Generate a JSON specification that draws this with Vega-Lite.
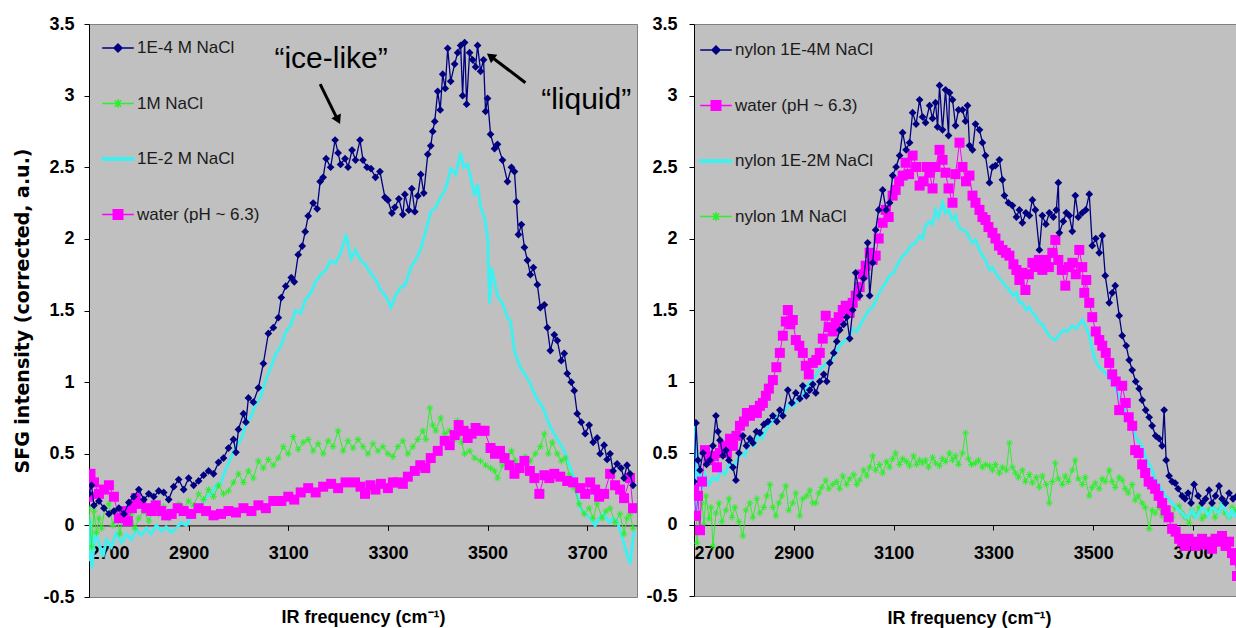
{
  "$schema": "https://vega.github.io/schema/vega-lite/v6.json",
  "padding": {"left": 13, "top": 14, "right": 0, "bottom": 0},
  "background": "white",
  "spacing": 7,
  "datasets": {
    "L_navy": [{"x":2700,"y":0.22},{"x":2705,"y":0.28},{"x":2710,"y":0.14},{"x":2720,"y":0.17},{"x":2730,"y":0.12},{"x":2740,"y":0.08},{"x":2750,"y":0.1},{"x":2760,"y":0.12},{"x":2770,"y":0.08},{"x":2780,"y":0.16},{"x":2790,"y":0.2},{"x":2800,"y":0.25},{"x":2810,"y":0.18},{"x":2820,"y":0.22},{"x":2830,"y":0.2},{"x":2840,"y":0.24},{"x":2850,"y":0.23},{"x":2860,"y":0.18},{"x":2870,"y":0.27},{"x":2880,"y":0.32},{"x":2890,"y":0.25},{"x":2900,"y":0.33},{"x":2910,"y":0.28},{"x":2920,"y":0.31},{"x":2930,"y":0.35},{"x":2940,"y":0.38},{"x":2950,"y":0.36},{"x":2960,"y":0.44},{"x":2970,"y":0.47},{"x":2980,"y":0.54},{"x":2990,"y":0.6},{"x":2995,"y":0.51},{"x":3000,"y":0.67},{"x":3010,"y":0.78},{"x":3015,"y":0.72},{"x":3020,"y":0.89},{"x":3030,"y":0.86},{"x":3040,"y":0.96},{"x":3050,"y":1.13},{"x":3060,"y":1.34},{"x":3070,"y":1.38},{"x":3080,"y":1.45},{"x":3086,"y":1.59},{"x":3095,"y":1.67},{"x":3106,"y":1.73},{"x":3112,"y":1.7},{"x":3120,"y":1.89},{"x":3128,"y":1.95},{"x":3134,"y":2.05},{"x":3140,"y":2.16},{"x":3150,"y":2.25},{"x":3158,"y":2.21},{"x":3164,"y":2.4},{"x":3170,"y":2.43},{"x":3176,"y":2.56},{"x":3185,"y":2.5},{"x":3194,"y":2.69},{"x":3200,"y":2.6},{"x":3205,"y":2.52},{"x":3214,"y":2.56},{"x":3220,"y":2.5},{"x":3228,"y":2.62},{"x":3235,"y":2.55},{"x":3244,"y":2.69},{"x":3250,"y":2.55},{"x":3258,"y":2.5},{"x":3266,"y":2.49},{"x":3275,"y":2.43},{"x":3284,"y":2.47},{"x":3294,"y":2.29},{"x":3300,"y":2.27},{"x":3308,"y":2.18},{"x":3314,"y":2.22},{"x":3322,"y":2.28},{"x":3330,"y":2.17},{"x":3334,"y":2.31},{"x":3342,"y":2.2},{"x":3348,"y":2.35},{"x":3354,"y":2.19},{"x":3360,"y":2.3},{"x":3366,"y":2.45},{"x":3372,"y":2.32},{"x":3380,"y":2.59},{"x":3386,"y":2.65},{"x":3390,"y":2.75},{"x":3394,"y":2.82},{"x":3400,"y":3.03},{"x":3405,"y":2.9},{"x":3410,"y":3.15},{"x":3415,"y":3.05},{"x":3420,"y":3.33},{"x":3426,"y":3.1},{"x":3434,"y":3.22},{"x":3440,"y":3.3},{"x":3446,"y":3.35},{"x":3450,"y":3.0},{"x":3454,"y":3.37},{"x":3458,"y":2.94},{"x":3464,"y":3.3},{"x":3470,"y":3.25},{"x":3476,"y":3.2},{"x":3480,"y":3.35},{"x":3486,"y":3.17},{"x":3492,"y":3.25},{"x":3496,"y":2.89},{"x":3500,"y":2.98},{"x":3506,"y":2.73},{"x":3514,"y":2.63},{"x":3520,"y":2.66},{"x":3530,"y":2.55},{"x":3540,"y":2.4},{"x":3548,"y":2.5},{"x":3554,"y":2.47},{"x":3558,"y":2.26},{"x":3562,"y":2.03},{"x":3568,"y":2.1},{"x":3574,"y":1.94},{"x":3580,"y":1.85},{"x":3586,"y":1.75},{"x":3592,"y":1.8},{"x":3600,"y":1.68},{"x":3606,"y":1.52},{"x":3614,"y":1.54},{"x":3620,"y":1.38},{"x":3626,"y":1.22},{"x":3634,"y":1.33},{"x":3640,"y":1.29},{"x":3648,"y":1.15},{"x":3654,"y":1.2},{"x":3660,"y":1.06},{"x":3668,"y":1.0},{"x":3674,"y":0.94},{"x":3680,"y":0.78},{"x":3688,"y":0.72},{"x":3696,"y":0.64},{"x":3704,"y":0.7},{"x":3712,"y":0.58},{"x":3720,"y":0.61},{"x":3726,"y":0.5},{"x":3734,"y":0.56},{"x":3740,"y":0.46},{"x":3746,"y":0.5},{"x":3752,"y":0.38},{"x":3760,"y":0.43},{"x":3768,"y":0.4},{"x":3774,"y":0.33},{"x":3780,"y":0.42},{"x":3786,"y":0.36},{"x":3792,"y":0.28}],
    "L_mag": [{"x":2700,"y":0.2},{"x":2703,"y":0.36},{"x":2710,"y":0.3},{"x":2720,"y":0.22},{"x":2730,"y":0.25},{"x":2740,"y":0.28},{"x":2750,"y":0.2},{"x":2760,"y":0.05},{"x":2770,"y":0.1},{"x":2778,"y":0.03},{"x":2786,"y":0.12},{"x":2794,"y":0.19},{"x":2805,"y":0.15},{"x":2815,"y":0.12},{"x":2825,"y":0.1},{"x":2834,"y":0.14},{"x":2845,"y":0.1},{"x":2855,"y":0.07},{"x":2866,"y":0.08},{"x":2878,"y":0.12},{"x":2890,"y":0.1},{"x":2905,"y":0.08},{"x":2920,"y":0.12},{"x":2935,"y":0.1},{"x":2950,"y":0.07},{"x":2965,"y":0.08},{"x":2980,"y":0.1},{"x":2995,"y":0.09},{"x":3010,"y":0.12},{"x":3026,"y":0.1},{"x":3040,"y":0.14},{"x":3055,"y":0.12},{"x":3070,"y":0.17},{"x":3086,"y":0.17},{"x":3100,"y":0.2},{"x":3112,"y":0.18},{"x":3125,"y":0.23},{"x":3140,"y":0.26},{"x":3155,"y":0.23},{"x":3170,"y":0.27},{"x":3186,"y":0.29},{"x":3200,"y":0.26},{"x":3215,"y":0.3},{"x":3234,"y":0.3},{"x":3245,"y":0.27},{"x":3254,"y":0.22},{"x":3265,"y":0.28},{"x":3275,"y":0.25},{"x":3286,"y":0.29},{"x":3300,"y":0.26},{"x":3310,"y":0.3},{"x":3320,"y":0.3},{"x":3330,"y":0.29},{"x":3340,"y":0.34},{"x":3354,"y":0.38},{"x":3365,"y":0.42},{"x":3375,"y":0.4},{"x":3386,"y":0.47},{"x":3400,"y":0.52},{"x":3414,"y":0.59},{"x":3424,"y":0.56},{"x":3434,"y":0.63},{"x":3442,"y":0.7},{"x":3452,"y":0.66},{"x":3460,"y":0.61},{"x":3468,"y":0.64},{"x":3476,"y":0.68},{"x":3486,"y":0.66},{"x":3494,"y":0.66},{"x":3506,"y":0.54},{"x":3515,"y":0.5},{"x":3525,"y":0.52},{"x":3534,"y":0.47},{"x":3544,"y":0.42},{"x":3554,"y":0.36},{"x":3564,"y":0.4},{"x":3574,"y":0.45},{"x":3585,"y":0.38},{"x":3594,"y":0.33},{"x":3604,"y":0.22},{"x":3614,"y":0.35},{"x":3624,"y":0.33},{"x":3634,"y":0.36},{"x":3646,"y":0.34},{"x":3660,"y":0.31},{"x":3672,"y":0.3},{"x":3686,"y":0.26},{"x":3696,"y":0.22},{"x":3706,"y":0.3},{"x":3716,"y":0.25},{"x":3724,"y":0.2},{"x":3734,"y":0.22},{"x":3746,"y":0.36},{"x":3756,"y":0.28},{"x":3766,"y":0.25},{"x":3774,"y":0.19},{"x":3786,"y":0.33},{"x":3792,"y":0.12}],
    "L_cyan": [{"x":2700,"y":-0.25},{"x":2703,"y":0.05},{"x":2706,"y":-0.3},{"x":2712,"y":-0.05},{"x":2720,"y":-0.12},{"x":2728,"y":-0.22},{"x":2735,"y":-0.1},{"x":2745,"y":-0.15},{"x":2755,"y":-0.05},{"x":2765,"y":-0.12},{"x":2775,"y":-0.06},{"x":2785,"y":-0.1},{"x":2795,"y":-0.03},{"x":2805,"y":-0.07},{"x":2815,"y":-0.02},{"x":2825,"y":-0.06},{"x":2835,"y":0.0},{"x":2845,"y":-0.04},{"x":2855,"y":-0.01},{"x":2865,"y":-0.05},{"x":2875,"y":-0.02},{"x":2885,"y":0.02},{"x":2895,"y":0.0},{"x":2905,"y":0.06},{"x":2915,"y":0.1},{"x":2925,"y":0.14},{"x":2935,"y":0.2},{"x":2945,"y":0.22},{"x":2955,"y":0.28},{"x":2965,"y":0.3},{"x":2975,"y":0.4},{"x":2985,"y":0.47},{"x":2995,"y":0.55},{"x":3005,"y":0.6},{"x":3015,"y":0.7},{"x":3025,"y":0.76},{"x":3035,"y":0.85},{"x":3045,"y":0.9},{"x":3055,"y":1.02},{"x":3065,"y":1.1},{"x":3075,"y":1.2},{"x":3085,"y":1.25},{"x":3095,"y":1.35},{"x":3105,"y":1.4},{"x":3115,"y":1.5},{"x":3125,"y":1.48},{"x":3135,"y":1.58},{"x":3145,"y":1.62},{"x":3155,"y":1.7},{"x":3165,"y":1.75},{"x":3175,"y":1.78},{"x":3185,"y":1.85},{"x":3195,"y":1.83},{"x":3205,"y":1.9},{"x":3216,"y":2.03},{"x":3226,"y":1.86},{"x":3235,"y":1.92},{"x":3245,"y":1.85},{"x":3255,"y":1.82},{"x":3265,"y":1.76},{"x":3275,"y":1.72},{"x":3286,"y":1.64},{"x":3296,"y":1.6},{"x":3306,"y":1.52},{"x":3315,"y":1.6},{"x":3325,"y":1.66},{"x":3335,"y":1.68},{"x":3346,"y":1.8},{"x":3355,"y":1.85},{"x":3365,"y":1.92},{"x":3374,"y":2.03},{"x":3386,"y":2.19},{"x":3396,"y":2.22},{"x":3406,"y":2.29},{"x":3416,"y":2.35},{"x":3426,"y":2.49},{"x":3436,"y":2.45},{"x":3446,"y":2.6},{"x":3452,"y":2.5},{"x":3460,"y":2.52},{"x":3468,"y":2.4},{"x":3474,"y":2.3},{"x":3480,"y":2.38},{"x":3486,"y":2.22},{"x":3494,"y":2.15},{"x":3500,"y":2.01},{"x":3504,"y":1.55},{"x":3508,"y":1.8},{"x":3514,"y":1.7},{"x":3520,"y":1.6},{"x":3530,"y":1.55},{"x":3540,"y":1.45},{"x":3546,"y":1.43},{"x":3554,"y":1.22},{"x":3566,"y":1.1},{"x":3576,"y":1.05},{"x":3586,"y":0.99},{"x":3596,"y":0.9},{"x":3606,"y":0.85},{"x":3614,"y":0.8},{"x":3624,"y":0.7},{"x":3634,"y":0.64},{"x":3644,"y":0.58},{"x":3654,"y":0.52},{"x":3664,"y":0.42},{"x":3674,"y":0.33},{"x":3680,"y":0.2},{"x":3686,"y":0.12},{"x":3696,"y":0.08},{"x":3706,"y":0.05},{"x":3716,"y":0.0},{"x":3726,"y":0.06},{"x":3734,"y":0.08},{"x":3744,"y":0.02},{"x":3752,"y":0.05},{"x":3760,"y":0.03},{"x":3770,"y":-0.08},{"x":3780,"y":-0.2},{"x":3786,"y":-0.27},{"x":3794,"y":-0.04}],
    "L_green": [{"x":2700,"y":0.12},{"x":2705,"y":-0.15},{"x":2710,"y":0.1},{"x":2715,"y":-0.05},{"x":2720,"y":0.05},{"x":2725,"y":-0.02},{"x":2732,"y":0.12},{"x":2740,"y":0.15},{"x":2748,"y":0.0},{"x":2755,"y":0.08},{"x":2762,"y":-0.06},{"x":2770,"y":0.1},{"x":2778,"y":0.02},{"x":2785,"y":0.08},{"x":2792,"y":-0.02},{"x":2800,"y":0.05},{"x":2810,"y":0.1},{"x":2820,"y":0.03},{"x":2830,"y":0.12},{"x":2840,"y":0.08},{"x":2850,"y":0.13},{"x":2860,"y":0.05},{"x":2870,"y":0.1},{"x":2880,"y":0.15},{"x":2890,"y":0.12},{"x":2900,"y":0.17},{"x":2910,"y":0.14},{"x":2920,"y":0.22},{"x":2930,"y":0.18},{"x":2940,"y":0.25},{"x":2950,"y":0.2},{"x":2960,"y":0.28},{"x":2970,"y":0.22},{"x":2980,"y":0.24},{"x":2990,"y":0.3},{"x":3000,"y":0.36},{"x":3010,"y":0.3},{"x":3020,"y":0.38},{"x":3030,"y":0.33},{"x":3040,"y":0.45},{"x":3050,"y":0.4},{"x":3060,"y":0.46},{"x":3070,"y":0.42},{"x":3080,"y":0.47},{"x":3090,"y":0.55},{"x":3100,"y":0.5},{"x":3110,"y":0.62},{"x":3120,"y":0.53},{"x":3130,"y":0.58},{"x":3140,"y":0.6},{"x":3150,"y":0.52},{"x":3160,"y":0.57},{"x":3170,"y":0.5},{"x":3180,"y":0.59},{"x":3190,"y":0.55},{"x":3200,"y":0.66},{"x":3210,"y":0.52},{"x":3220,"y":0.59},{"x":3230,"y":0.54},{"x":3240,"y":0.6},{"x":3250,"y":0.55},{"x":3260,"y":0.5},{"x":3270,"y":0.57},{"x":3280,"y":0.52},{"x":3290,"y":0.55},{"x":3300,"y":0.5},{"x":3310,"y":0.48},{"x":3320,"y":0.55},{"x":3330,"y":0.59},{"x":3340,"y":0.5},{"x":3350,"y":0.55},{"x":3360,"y":0.6},{"x":3370,"y":0.66},{"x":3376,"y":0.6},{"x":3384,"y":0.82},{"x":3390,"y":0.7},{"x":3396,"y":0.66},{"x":3406,"y":0.75},{"x":3414,"y":0.64},{"x":3424,"y":0.66},{"x":3434,"y":0.6},{"x":3440,"y":0.73},{"x":3448,"y":0.58},{"x":3454,"y":0.5},{"x":3464,"y":0.52},{"x":3474,"y":0.47},{"x":3486,"y":0.45},{"x":3496,"y":0.42},{"x":3506,"y":0.4},{"x":3514,"y":0.38},{"x":3520,"y":0.33},{"x":3530,"y":0.42},{"x":3540,"y":0.45},{"x":3548,"y":0.52},{"x":3556,"y":0.45},{"x":3566,"y":0.42},{"x":3576,"y":0.48},{"x":3586,"y":0.45},{"x":3596,"y":0.5},{"x":3606,"y":0.55},{"x":3614,"y":0.64},{"x":3622,"y":0.5},{"x":3630,"y":0.58},{"x":3640,"y":0.5},{"x":3648,"y":0.45},{"x":3656,"y":0.47},{"x":3664,"y":0.35},{"x":3674,"y":0.26},{"x":3684,"y":0.15},{"x":3694,"y":0.08},{"x":3704,"y":0.12},{"x":3712,"y":0.05},{"x":3720,"y":0.15},{"x":3730,"y":0.05},{"x":3738,"y":0.1},{"x":3746,"y":0.12},{"x":3756,"y":0.02},{"x":3766,"y":0.08},{"x":3774,"y":-0.06},{"x":3780,"y":0.05},{"x":3786,"y":0.08},{"x":3792,"y":-0.02}],
    "R_navy": [{"x":2700,"y":0.3},{"x":2704,"y":0.71},{"x":2708,"y":0.45},{"x":2712,"y":0.38},{"x":2718,"y":0.5},{"x":2725,"y":0.42},{"x":2732,"y":0.45},{"x":2738,"y":0.55},{"x":2744,"y":0.76},{"x":2748,"y":0.65},{"x":2752,"y":0.59},{"x":2758,"y":0.48},{"x":2764,"y":0.52},{"x":2770,"y":0.45},{"x":2778,"y":0.4},{"x":2784,"y":0.31},{"x":2790,"y":0.5},{"x":2798,"y":0.62},{"x":2805,"y":0.55},{"x":2812,"y":0.6},{"x":2818,"y":0.57},{"x":2825,"y":0.65},{"x":2832,"y":0.64},{"x":2840,"y":0.7},{"x":2848,"y":0.72},{"x":2858,"y":0.76},{"x":2866,"y":0.72},{"x":2872,"y":0.8},{"x":2878,"y":0.76},{"x":2888,"y":0.94},{"x":2896,"y":0.85},{"x":2904,"y":0.92},{"x":2912,"y":0.88},{"x":2918,"y":0.97},{"x":2925,"y":0.9},{"x":2932,"y":0.94},{"x":2938,"y":0.98},{"x":2944,"y":0.92},{"x":2952,"y":1.0},{"x":2960,"y":1.05},{"x":2966,"y":1.0},{"x":2972,"y":1.13},{"x":2980,"y":1.2},{"x":2986,"y":1.28},{"x":2992,"y":1.36},{"x":3000,"y":1.4},{"x":3006,"y":1.45},{"x":3012,"y":1.3},{"x":3018,"y":1.5},{"x":3024,"y":1.76},{"x":3032,"y":1.6},{"x":3040,"y":1.72},{"x":3048,"y":1.97},{"x":3052,"y":1.6},{"x":3058,"y":1.83},{"x":3064,"y":2.06},{"x":3070,"y":2.2},{"x":3078,"y":2.34},{"x":3085,"y":2.2},{"x":3092,"y":2.25},{"x":3098,"y":2.44},{"x":3105,"y":2.5},{"x":3112,"y":2.58},{"x":3118,"y":2.74},{"x":3125,"y":2.62},{"x":3132,"y":2.67},{"x":3138,"y":2.88},{"x":3145,"y":2.8},{"x":3152,"y":2.97},{"x":3158,"y":2.85},{"x":3164,"y":2.81},{"x":3172,"y":2.93},{"x":3178,"y":2.84},{"x":3184,"y":2.95},{"x":3188,"y":2.78},{"x":3192,"y":3.07},{"x":3198,"y":2.76},{"x":3204,"y":3.04},{"x":3210,"y":2.72},{"x":3212,"y":3.02},{"x":3218,"y":2.97},{"x":3224,"y":2.79},{"x":3230,"y":2.9},{"x":3238,"y":2.9},{"x":3244,"y":2.82},{"x":3248,"y":2.93},{"x":3252,"y":2.65},{"x":3258,"y":2.62},{"x":3264,"y":2.8},{"x":3272,"y":2.76},{"x":3278,"y":2.67},{"x":3284,"y":2.58},{"x":3292,"y":2.39},{"x":3298,"y":2.5},{"x":3304,"y":2.51},{"x":3312,"y":2.55},{"x":3318,"y":2.41},{"x":3322,"y":2.3},{"x":3330,"y":2.25},{"x":3338,"y":2.23},{"x":3346,"y":2.15},{"x":3352,"y":2.2},{"x":3358,"y":2.11},{"x":3365,"y":2.18},{"x":3372,"y":2.16},{"x":3378,"y":2.27},{"x":3384,"y":2.2},{"x":3392,"y":1.92},{"x":3398,"y":2.16},{"x":3405,"y":2.1},{"x":3412,"y":2.18},{"x":3420,"y":2.15},{"x":3426,"y":2.2},{"x":3430,"y":2.39},{"x":3432,"y":2.04},{"x":3440,"y":2.12},{"x":3446,"y":2.18},{"x":3452,"y":2.16},{"x":3458,"y":2.05},{"x":3464,"y":2.3},{"x":3470,"y":2.15},{"x":3478,"y":2.18},{"x":3485,"y":2.2},{"x":3492,"y":2.31},{"x":3498,"y":1.95},{"x":3505,"y":2.0},{"x":3512,"y":1.9},{"x":3518,"y":2.02},{"x":3524,"y":1.74},{"x":3532,"y":1.55},{"x":3538,"y":1.62},{"x":3544,"y":1.67},{"x":3552,"y":1.46},{"x":3558,"y":1.32},{"x":3566,"y":1.25},{"x":3572,"y":1.15},{"x":3578,"y":1.08},{"x":3585,"y":1.0},{"x":3592,"y":0.95},{"x":3598,"y":0.87},{"x":3605,"y":0.8},{"x":3612,"y":0.75},{"x":3618,"y":0.69},{"x":3625,"y":0.62},{"x":3632,"y":0.6},{"x":3638,"y":0.55},{"x":3642,"y":0.8},{"x":3646,"y":0.45},{"x":3652,"y":0.34},{"x":3658,"y":0.3},{"x":3664,"y":0.29},{"x":3670,"y":0.25},{"x":3678,"y":0.2},{"x":3684,"y":0.18},{"x":3690,"y":0.22},{"x":3696,"y":0.15},{"x":3702,"y":0.28},{"x":3710,"y":0.2},{"x":3718,"y":0.15},{"x":3725,"y":0.18},{"x":3732,"y":0.24},{"x":3738,"y":0.15},{"x":3745,"y":0.2},{"x":3752,"y":0.27},{"x":3758,"y":0.18},{"x":3765,"y":0.15},{"x":3772,"y":0.22},{"x":3780,"y":0.18},{"x":3788,"y":0.2}],
    "R_mag": [{"x":2700,"y":0.25},{"x":2704,"y":0.06},{"x":2708,"y":0.2},{"x":2712,"y":-0.04},{"x":2716,"y":0.3},{"x":2722,"y":0.52},{"x":2730,"y":0.45},{"x":2738,"y":0.48},{"x":2746,"y":0.4},{"x":2752,"y":0.5},{"x":2758,"y":0.55},{"x":2766,"y":0.5},{"x":2772,"y":0.6},{"x":2778,"y":0.55},{"x":2785,"y":0.62},{"x":2792,"y":0.69},{"x":2800,"y":0.72},{"x":2806,"y":0.78},{"x":2812,"y":0.76},{"x":2820,"y":0.8},{"x":2826,"y":0.78},{"x":2832,"y":0.83},{"x":2838,"y":0.85},{"x":2844,"y":0.9},{"x":2850,"y":0.95},{"x":2858,"y":1.01},{"x":2865,"y":1.1},{"x":2872,"y":1.2},{"x":2878,"y":1.32},{"x":2884,"y":1.42},{"x":2888,"y":1.5},{"x":2893,"y":1.4},{"x":2898,"y":1.43},{"x":2904,"y":1.29},{"x":2911,"y":1.25},{"x":2918,"y":1.2},{"x":2924,"y":1.11},{"x":2930,"y":1.05},{"x":2938,"y":1.13},{"x":2945,"y":1.15},{"x":2952,"y":1.2},{"x":2958,"y":1.3},{"x":2964,"y":1.46},{"x":2970,"y":1.38},{"x":2978,"y":1.35},{"x":2984,"y":1.41},{"x":2990,"y":1.45},{"x":2998,"y":1.5},{"x":3004,"y":1.53},{"x":3012,"y":1.48},{"x":3018,"y":1.55},{"x":3024,"y":1.6},{"x":3032,"y":1.66},{"x":3038,"y":1.75},{"x":3044,"y":1.81},{"x":3052,"y":1.9},{"x":3058,"y":1.85},{"x":3064,"y":1.88},{"x":3070,"y":2.0},{"x":3078,"y":2.11},{"x":3084,"y":2.2},{"x":3090,"y":2.15},{"x":3098,"y":2.3},{"x":3104,"y":2.34},{"x":3111,"y":2.4},{"x":3118,"y":2.44},{"x":3124,"y":2.53},{"x":3131,"y":2.45},{"x":3138,"y":2.58},{"x":3145,"y":2.5},{"x":3152,"y":2.37},{"x":3160,"y":2.4},{"x":3166,"y":2.5},{"x":3172,"y":2.46},{"x":3178,"y":2.35},{"x":3184,"y":2.5},{"x":3192,"y":2.62},{"x":3198,"y":2.55},{"x":3204,"y":2.46},{"x":3210,"y":2.35},{"x":3218,"y":2.25},{"x":3224,"y":2.45},{"x":3232,"y":2.67},{"x":3238,"y":2.5},{"x":3245,"y":2.4},{"x":3252,"y":2.44},{"x":3258,"y":2.3},{"x":3264,"y":2.25},{"x":3272,"y":2.2},{"x":3278,"y":2.15},{"x":3284,"y":2.13},{"x":3290,"y":2.08},{"x":3298,"y":2.04},{"x":3304,"y":2.0},{"x":3311,"y":1.95},{"x":3318,"y":1.92},{"x":3325,"y":1.9},{"x":3332,"y":1.88},{"x":3340,"y":1.82},{"x":3346,"y":1.78},{"x":3352,"y":1.71},{"x":3358,"y":1.76},{"x":3364,"y":1.64},{"x":3371,"y":1.75},{"x":3378,"y":1.83},{"x":3384,"y":1.8},{"x":3391,"y":1.85},{"x":3398,"y":1.78},{"x":3404,"y":1.85},{"x":3411,"y":1.8},{"x":3418,"y":1.9},{"x":3424,"y":1.99},{"x":3430,"y":1.85},{"x":3437,"y":1.78},{"x":3444,"y":1.67},{"x":3451,"y":1.8},{"x":3458,"y":1.83},{"x":3465,"y":1.75},{"x":3472,"y":1.92},{"x":3478,"y":1.8},{"x":3482,"y":1.62},{"x":3486,"y":1.71},{"x":3492,"y":1.55},{"x":3498,"y":1.45},{"x":3505,"y":1.35},{"x":3512,"y":1.29},{"x":3518,"y":1.25},{"x":3525,"y":1.2},{"x":3532,"y":1.13},{"x":3538,"y":1.05},{"x":3545,"y":1.0},{"x":3552,"y":0.8},{"x":3558,"y":0.97},{"x":3565,"y":0.85},{"x":3571,"y":0.75},{"x":3578,"y":0.69},{"x":3584,"y":0.52},{"x":3591,"y":0.5},{"x":3598,"y":0.42},{"x":3604,"y":0.36},{"x":3611,"y":0.3},{"x":3618,"y":0.28},{"x":3624,"y":0.25},{"x":3631,"y":0.2},{"x":3638,"y":0.15},{"x":3645,"y":0.1},{"x":3651,"y":0.05},{"x":3658,"y":-0.03},{"x":3665,"y":-0.05},{"x":3672,"y":-0.1},{"x":3678,"y":-0.12},{"x":3684,"y":-0.15},{"x":3691,"y":-0.1},{"x":3698,"y":-0.12},{"x":3705,"y":-0.15},{"x":3712,"y":-0.13},{"x":3718,"y":-0.1},{"x":3725,"y":-0.14},{"x":3732,"y":-0.12},{"x":3738,"y":-0.17},{"x":3745,"y":-0.1},{"x":3752,"y":-0.12},{"x":3758,"y":-0.08},{"x":3765,"y":-0.15},{"x":3772,"y":-0.12},{"x":3778,"y":-0.2},{"x":3784,"y":-0.25},{"x":3788,"y":-0.36}],
    "R_cyan": [{"x":2700,"y":0.1},{"x":2702,"y":0.69},{"x":2704,"y":0.3},{"x":2706,"y":0.03},{"x":2710,"y":0.4},{"x":2716,"y":0.25},{"x":2722,"y":0.35},{"x":2730,"y":0.28},{"x":2738,"y":0.33},{"x":2746,"y":0.31},{"x":2754,"y":0.38},{"x":2762,"y":0.35},{"x":2770,"y":0.42},{"x":2778,"y":0.4},{"x":2786,"y":0.45},{"x":2794,"y":0.5},{"x":2802,"y":0.48},{"x":2812,"y":0.59},{"x":2820,"y":0.55},{"x":2828,"y":0.62},{"x":2836,"y":0.6},{"x":2844,"y":0.66},{"x":2852,"y":0.7},{"x":2860,"y":0.72},{"x":2868,"y":0.76},{"x":2876,"y":0.78},{"x":2884,"y":0.8},{"x":2892,"y":0.85},{"x":2900,"y":0.83},{"x":2908,"y":0.88},{"x":2918,"y":0.9},{"x":2926,"y":0.96},{"x":2934,"y":1.0},{"x":2942,"y":1.03},{"x":2950,"y":1.08},{"x":2958,"y":1.1},{"x":2966,"y":1.13},{"x":2975,"y":1.15},{"x":2984,"y":1.2},{"x":2992,"y":1.25},{"x":3000,"y":1.28},{"x":3008,"y":1.3},{"x":3018,"y":1.36},{"x":3026,"y":1.35},{"x":3034,"y":1.4},{"x":3042,"y":1.45},{"x":3050,"y":1.5},{"x":3058,"y":1.52},{"x":3066,"y":1.58},{"x":3074,"y":1.64},{"x":3082,"y":1.68},{"x":3092,"y":1.74},{"x":3100,"y":1.76},{"x":3108,"y":1.82},{"x":3118,"y":1.88},{"x":3126,"y":1.9},{"x":3134,"y":1.95},{"x":3144,"y":1.97},{"x":3152,"y":2.02},{"x":3158,"y":2.0},{"x":3164,"y":2.09},{"x":3172,"y":2.12},{"x":3178,"y":2.1},{"x":3184,"y":2.2},{"x":3190,"y":2.15},{"x":3198,"y":2.25},{"x":3204,"y":2.18},{"x":3210,"y":2.2},{"x":3218,"y":2.13},{"x":3224,"y":2.16},{"x":3230,"y":2.08},{"x":3238,"y":2.06},{"x":3246,"y":2.05},{"x":3252,"y":2.0},{"x":3258,"y":1.97},{"x":3264,"y":1.99},{"x":3272,"y":1.92},{"x":3278,"y":1.88},{"x":3284,"y":1.85},{"x":3292,"y":1.78},{"x":3298,"y":1.8},{"x":3304,"y":1.76},{"x":3312,"y":1.72},{"x":3318,"y":1.7},{"x":3324,"y":1.67},{"x":3332,"y":1.64},{"x":3340,"y":1.6},{"x":3346,"y":1.62},{"x":3352,"y":1.55},{"x":3358,"y":1.55},{"x":3366,"y":1.5},{"x":3372,"y":1.52},{"x":3378,"y":1.48},{"x":3384,"y":1.46},{"x":3390,"y":1.42},{"x":3398,"y":1.4},{"x":3406,"y":1.35},{"x":3412,"y":1.32},{"x":3418,"y":1.3},{"x":3424,"y":1.29},{"x":3432,"y":1.33},{"x":3440,"y":1.36},{"x":3448,"y":1.35},{"x":3458,"y":1.39},{"x":3466,"y":1.37},{"x":3472,"y":1.4},{"x":3478,"y":1.43},{"x":3485,"y":1.38},{"x":3492,"y":1.32},{"x":3498,"y":1.22},{"x":3504,"y":1.15},{"x":3512,"y":1.1},{"x":3518,"y":1.08},{"x":3524,"y":1.06},{"x":3532,"y":1.02},{"x":3538,"y":1.0},{"x":3544,"y":0.97},{"x":3550,"y":0.9},{"x":3558,"y":0.85},{"x":3564,"y":0.8},{"x":3571,"y":0.75},{"x":3578,"y":0.69},{"x":3584,"y":0.62},{"x":3591,"y":0.58},{"x":3598,"y":0.55},{"x":3604,"y":0.48},{"x":3611,"y":0.43},{"x":3618,"y":0.38},{"x":3624,"y":0.32},{"x":3631,"y":0.28},{"x":3638,"y":0.24},{"x":3645,"y":0.2},{"x":3651,"y":0.18},{"x":3658,"y":0.15},{"x":3664,"y":0.13},{"x":3671,"y":0.1},{"x":3678,"y":0.08},{"x":3685,"y":0.05},{"x":3692,"y":0.06},{"x":3698,"y":0.1},{"x":3705,"y":0.05},{"x":3712,"y":0.08},{"x":3718,"y":0.12},{"x":3724,"y":0.1},{"x":3731,"y":0.06},{"x":3738,"y":0.12},{"x":3745,"y":0.1},{"x":3752,"y":0.08},{"x":3758,"y":0.15},{"x":3765,"y":0.1},{"x":3772,"y":0.05},{"x":3778,"y":0.1},{"x":3784,"y":0.06},{"x":3790,"y":0.08}],
    "R_green": [{"x":2700,"y":0.1},{"x":2703,"y":0.3},{"x":2706,"y":-0.13},{"x":2710,"y":0.05},{"x":2716,"y":0.15},{"x":2720,"y":0.0},{"x":2724,"y":0.2},{"x":2730,"y":0.04},{"x":2734,"y":0.12},{"x":2738,"y":-0.15},{"x":2744,"y":0.08},{"x":2750,"y":0.15},{"x":2756,"y":0.02},{"x":2764,"y":0.1},{"x":2770,"y":0.18},{"x":2776,"y":0.05},{"x":2782,"y":0.12},{"x":2790,"y":0.02},{"x":2798,"y":-0.08},{"x":2804,"y":0.1},{"x":2812,"y":0.15},{"x":2818,"y":0.05},{"x":2826,"y":0.18},{"x":2832,"y":0.08},{"x":2840,"y":0.12},{"x":2846,"y":0.2},{"x":2852,"y":0.28},{"x":2858,"y":0.12},{"x":2864,"y":0.06},{"x":2870,"y":0.15},{"x":2876,"y":0.2},{"x":2884,"y":0.27},{"x":2890,"y":0.1},{"x":2898,"y":0.15},{"x":2904,"y":0.22},{"x":2912,"y":0.06},{"x":2918,"y":0.18},{"x":2926,"y":0.2},{"x":2932,"y":0.24},{"x":2938,"y":0.15},{"x":2944,"y":0.15},{"x":2950,"y":0.22},{"x":2956,"y":0.26},{"x":2964,"y":0.31},{"x":2970,"y":0.25},{"x":2978,"y":0.28},{"x":2986,"y":0.3},{"x":2992,"y":0.25},{"x":2998,"y":0.34},{"x":3006,"y":0.28},{"x":3012,"y":0.32},{"x":3020,"y":0.35},{"x":3026,"y":0.28},{"x":3032,"y":0.31},{"x":3040,"y":0.38},{"x":3046,"y":0.34},{"x":3052,"y":0.4},{"x":3058,"y":0.48},{"x":3064,"y":0.38},{"x":3072,"y":0.42},{"x":3078,"y":0.36},{"x":3086,"y":0.44},{"x":3092,"y":0.4},{"x":3098,"y":0.46},{"x":3104,"y":0.5},{"x":3112,"y":0.42},{"x":3118,"y":0.46},{"x":3126,"y":0.44},{"x":3132,"y":0.41},{"x":3140,"y":0.48},{"x":3146,"y":0.42},{"x":3152,"y":0.45},{"x":3158,"y":0.43},{"x":3164,"y":0.45},{"x":3170,"y":0.4},{"x":3178,"y":0.47},{"x":3184,"y":0.43},{"x":3192,"y":0.41},{"x":3198,"y":0.46},{"x":3204,"y":0.44},{"x":3212,"y":0.5},{"x":3218,"y":0.45},{"x":3224,"y":0.48},{"x":3230,"y":0.42},{"x":3238,"y":0.5},{"x":3244,"y":0.64},{"x":3250,"y":0.46},{"x":3256,"y":0.42},{"x":3264,"y":0.43},{"x":3270,"y":0.45},{"x":3278,"y":0.4},{"x":3284,"y":0.42},{"x":3292,"y":0.41},{"x":3298,"y":0.38},{"x":3304,"y":0.42},{"x":3312,"y":0.36},{"x":3318,"y":0.4},{"x":3326,"y":0.38},{"x":3332,"y":0.57},{"x":3338,"y":0.4},{"x":3344,"y":0.36},{"x":3350,"y":0.33},{"x":3358,"y":0.38},{"x":3364,"y":0.3},{"x":3372,"y":0.35},{"x":3378,"y":0.29},{"x":3386,"y":0.33},{"x":3392,"y":0.26},{"x":3398,"y":0.34},{"x":3406,"y":0.28},{"x":3412,"y":0.15},{"x":3418,"y":0.3},{"x":3424,"y":0.43},{"x":3430,"y":0.32},{"x":3438,"y":0.28},{"x":3444,"y":0.34},{"x":3450,"y":0.3},{"x":3458,"y":0.38},{"x":3464,"y":0.45},{"x":3470,"y":0.32},{"x":3478,"y":0.28},{"x":3484,"y":0.33},{"x":3492,"y":0.2},{"x":3498,"y":0.26},{"x":3504,"y":0.29},{"x":3512,"y":0.25},{"x":3518,"y":0.32},{"x":3524,"y":0.3},{"x":3532,"y":0.38},{"x":3538,"y":0.3},{"x":3544,"y":0.26},{"x":3552,"y":0.33},{"x":3558,"y":0.31},{"x":3564,"y":0.25},{"x":3570,"y":0.22},{"x":3578,"y":0.28},{"x":3584,"y":0.17},{"x":3590,"y":0.2},{"x":3598,"y":0.15},{"x":3604,"y":0.12},{"x":3612,"y":-0.03},{"x":3618,"y":0.1},{"x":3624,"y":0.08},{"x":3632,"y":0.12},{"x":3638,"y":0.06},{"x":3644,"y":0.1},{"x":3652,"y":0.08},{"x":3658,"y":0.05},{"x":3664,"y":0.12},{"x":3672,"y":0.13},{"x":3678,"y":0.08},{"x":3684,"y":0.05},{"x":3692,"y":0.01},{"x":3698,"y":0.1},{"x":3704,"y":0.06},{"x":3712,"y":0.12},{"x":3718,"y":0.04},{"x":3724,"y":0.06},{"x":3732,"y":0.1},{"x":3738,"y":0.12},{"x":3744,"y":0.05},{"x":3752,"y":0.1},{"x":3758,"y":0.15},{"x":3764,"y":0.08},{"x":3772,"y":0.05},{"x":3778,"y":0.12},{"x":3784,"y":0.1},{"x":3790,"y":0.06}]
  },
  "hconcat": [
    {
      "width": 548,
      "height": 573,
      "encoding": {
        "x": {"field": "x", "type": "quantitative", "scale": {"domain": [2700, 3800], "nice": false, "zero": false},
          "axis": {"title": "IR frequency (cm⁻¹)", "values": [2700, 2900, 3100, 3300, 3500, 3700], "offset": -71.6, "titleY": 92, "titleBaseline": "middle", "labelPadding": 14, "labelExpr": "'' + datum.value"}},
        "y": {"field": "y", "type": "quantitative", "scale": {"domain": [-0.5, 3.5], "nice": false, "zero": false},
          "axis": {"title": "SFG intensity (corrected, a.u.)", "titleFont": "DejaVu Sans", "titleFontSize": 19, "values": [-0.5, 0, 0.5, 1, 1.5, 2, 2.5, 3, 3.5], "labelExpr": "'' + datum.value", "titlePadding": 10}}
      },
      "layer": [
        {"data": {"name": "L_cyan"}, "mark": {"type": "line", "strokeWidth": 3, "clip": true},
          "encoding": {"color": {"datum": "1E-2 M NaCl", "type": "nominal",
            "scale": {"domain": ["1E-4 M NaCl", "1M NaCl", "1E-2 M NaCl", "water (pH ~ 6.3)"], "range": ["#000080", "#2BF02B", "#40F0F0", "#FF00FF"]},
            "legend": {"legendX": 12, "legendY": 7, "symbolSize": 1000, "symbolStrokeWidth": 1.5, "rowPadding": 30.5, "labelOffset": 2,
              "encode": {"symbols": {"update": {
                "shape": {"signal": "test(/1E-4/, datum.value) ? 'M-1,0H1M0,-0.25L0.25,0L0,0.25L-0.25,0Z' : test(/water/, datum.value) ? 'M-1,0H1M-0.3,-0.3H0.3V0.3H-0.3Z' : test(/1M/, datum.value) ? 'M-1,0H1M-0.2,-0.2L0.2,0.2M-0.2,0.2L0.2,-0.2M0,-0.28V0.28' : 'M-1,-0.08H1V0.08H-1Z'"},
                "fill": {"signal": "test(/1E-4/, datum.value) ? '#000080' : test(/water/, datum.value) ? '#FF00FF' : test(/1E-2/, datum.value) ? '#40F0F0' : 'transparent'"}}}}}}}},
        {"data": {"name": "L_green"}, "mark": {"type": "line", "strokeWidth": 1, "clip": true}, "encoding": {"color": {"datum": "1M NaCl", "type": "nominal"}}},
        {"data": {"name": "L_green"}, "mark": {"type": "point", "shape": "M-1,0H1M0,-1V1M-0.7,-0.7L0.7,0.7M-0.7,0.7L0.7,-0.7", "size": 45, "filled": false, "color": "#2BF02B", "strokeWidth": 1, "opacity": 1, "clip": true}},
        {"data": {"name": "L_mag"}, "mark": {"type": "line", "strokeWidth": 1, "clip": true}, "encoding": {"color": {"datum": "water (pH ~ 6.3)", "type": "nominal"}}},
        {"data": {"name": "L_mag"}, "mark": {"type": "point", "shape": "square", "size": 100, "filled": true, "color": "#FF00FF", "opacity": 1, "clip": true}},
        {"data": {"name": "L_navy"}, "mark": {"type": "line", "strokeWidth": 1.3, "clip": true}, "encoding": {"color": {"datum": "1E-4 M NaCl", "type": "nominal"}}},
        {"data": {"name": "L_navy"}, "mark": {"type": "point", "shape": "diamond", "size": 60, "filled": true, "color": "#000080", "opacity": 1, "clip": true}},
        {"data": {"values": [{"x": 3164, "y": 3.08, "x2": 3198, "y2": 2.84}, {"x": 3576, "y": 3.09, "x2": 3508, "y2": 3.27}]},
          "mark": {"type": "rule", "strokeWidth": 3, "color": "black"},
          "encoding": {"x2": {"field": "x2"}, "y2": {"field": "y2"}}},
        {"data": {"values": [{"x": 3200, "y": 2.83}]}, "mark": {"type": "point", "shape": "triangle-up", "angle": 154.5, "size": 110, "filled": true, "color": "black", "opacity": 1}},
        {"data": {"values": [{"x": 3506, "y": 3.275}]}, "mark": {"type": "point", "shape": "triangle-up", "angle": 307, "size": 110, "filled": true, "color": "black", "opacity": 1}},
        {"data": {"values": [{"x": 3186, "y": 3.19, "label": "“ice-like”"}, {"x": 3698, "y": 2.91, "label": "“liquid”"}]},
          "mark": {"type": "text", "fontSize": 30, "font": "Liberation Sans", "color": "black", "align": "center", "baseline": "alphabetic"},
          "encoding": {"text": {"field": "label"}}}
      ]
    },
    {
      "width": 544,
      "height": 572,
      "encoding": {
        "x": {"field": "x", "type": "quantitative", "scale": {"domain": [2700, 3790], "nice": false, "zero": false},
          "axis": {"title": "IR frequency (cm⁻¹)", "values": [2700, 2900, 3100, 3300, 3500, 3700], "offset": -71, "titleY": 93, "titleBaseline": "middle", "titleX": 275, "labelPadding": 14, "labelExpr": "'' + datum.value"}},
        "y": {"field": "y", "type": "quantitative", "scale": {"domain": [-0.5, 3.5], "nice": false, "zero": false},
          "axis": {"title": null, "values": [-0.5, 0, 0.5, 1, 1.5, 2, 2.5, 3, 3.5], "labelExpr": "'' + datum.value", "labelPadding": 12}}
      },
      "layer": [
        {"data": {"name": "R_green"}, "mark": {"type": "line", "strokeWidth": 1, "clip": true},
          "encoding": {"color": {"datum": "nylon 1M NaCl", "type": "nominal",
            "scale": {"domain": ["nylon 1E-4M NaCl", "water (pH ~ 6.3)", "nylon 1E-2M NaCl", "nylon 1M NaCl"], "range": ["#000080", "#FF00FF", "#40F0F0", "#2BF02B"]},
            "legend": {"legendX": 5, "legendY": 9, "symbolSize": 1000, "symbolStrokeWidth": 1.5, "rowPadding": 30.5, "labelOffset": 2,
              "encode": {"symbols": {"update": {
                "shape": {"signal": "test(/1E-4/, datum.value) ? 'M-1,0H1M0,-0.25L0.25,0L0,0.25L-0.25,0Z' : test(/water/, datum.value) ? 'M-1,0H1M-0.3,-0.3H0.3V0.3H-0.3Z' : test(/1M/, datum.value) ? 'M-1,0H1M-0.2,-0.2L0.2,0.2M-0.2,0.2L0.2,-0.2M0,-0.28V0.28' : 'M-1,-0.08H1V0.08H-1Z'"},
                "fill": {"signal": "test(/1E-4/, datum.value) ? '#000080' : test(/water/, datum.value) ? '#FF00FF' : test(/1E-2/, datum.value) ? '#40F0F0' : 'transparent'"}}}}}}}},
        {"data": {"name": "R_green"}, "mark": {"type": "point", "shape": "M-1,0H1M0,-1V1M-0.7,-0.7L0.7,0.7M-0.7,0.7L0.7,-0.7", "size": 45, "filled": false, "color": "#2BF02B", "strokeWidth": 1, "opacity": 1, "clip": true}},
        {"data": {"name": "R_cyan"}, "mark": {"type": "line", "strokeWidth": 3, "clip": true}, "encoding": {"color": {"datum": "nylon 1E-2M NaCl", "type": "nominal"}}},
        {"data": {"name": "R_mag"}, "mark": {"type": "line", "strokeWidth": 1, "clip": true}, "encoding": {"color": {"datum": "water (pH ~ 6.3)", "type": "nominal"}}},
        {"data": {"name": "R_mag"}, "mark": {"type": "point", "shape": "square", "size": 100, "filled": true, "color": "#FF00FF", "opacity": 1, "clip": true}},
        {"data": {"name": "R_navy"}, "mark": {"type": "line", "strokeWidth": 1.3, "clip": true}, "encoding": {"color": {"datum": "nylon 1E-4M NaCl", "type": "nominal"}}},
        {"data": {"name": "R_navy"}, "mark": {"type": "point", "shape": "diamond", "size": 60, "filled": true, "color": "#000080", "opacity": 1, "clip": true}}
      ]
    }
  ],
  "resolve": {"scale": {"color": "independent", "x": "independent", "y": "independent"}, "legend": {"color": "independent"}},
  "config": {
    "font": "Liberation Sans",
    "view": {"fill": "#C0C0C0", "stroke": "#808080", "strokeWidth": 1},
    "axis": {"grid": false, "domainColor": "black", "domainWidth": 1, "tickColor": "black", "tickSize": 5, "labelColor": "black", "labelFont": "Liberation Sans", "labelFontSize": 18, "labelFontWeight": "bold", "titleColor": "black", "titleFont": "Liberation Sans", "titleFontSize": 18, "titleFontWeight": "bold", "labelPadding": 10},
    "legend": {"orient": "none", "title": null, "padding": 0, "symbolSize": 1000, "rowPadding": 30.5, "labelFont": "Liberation Sans", "labelFontSize": 17, "labelColor": "#1a1a1a", "labelOffset": 2, "symbolType": "stroke",
      "symbolStrokeWidth": 1.5,
      "symbolOpacity": 1}
  }
}
